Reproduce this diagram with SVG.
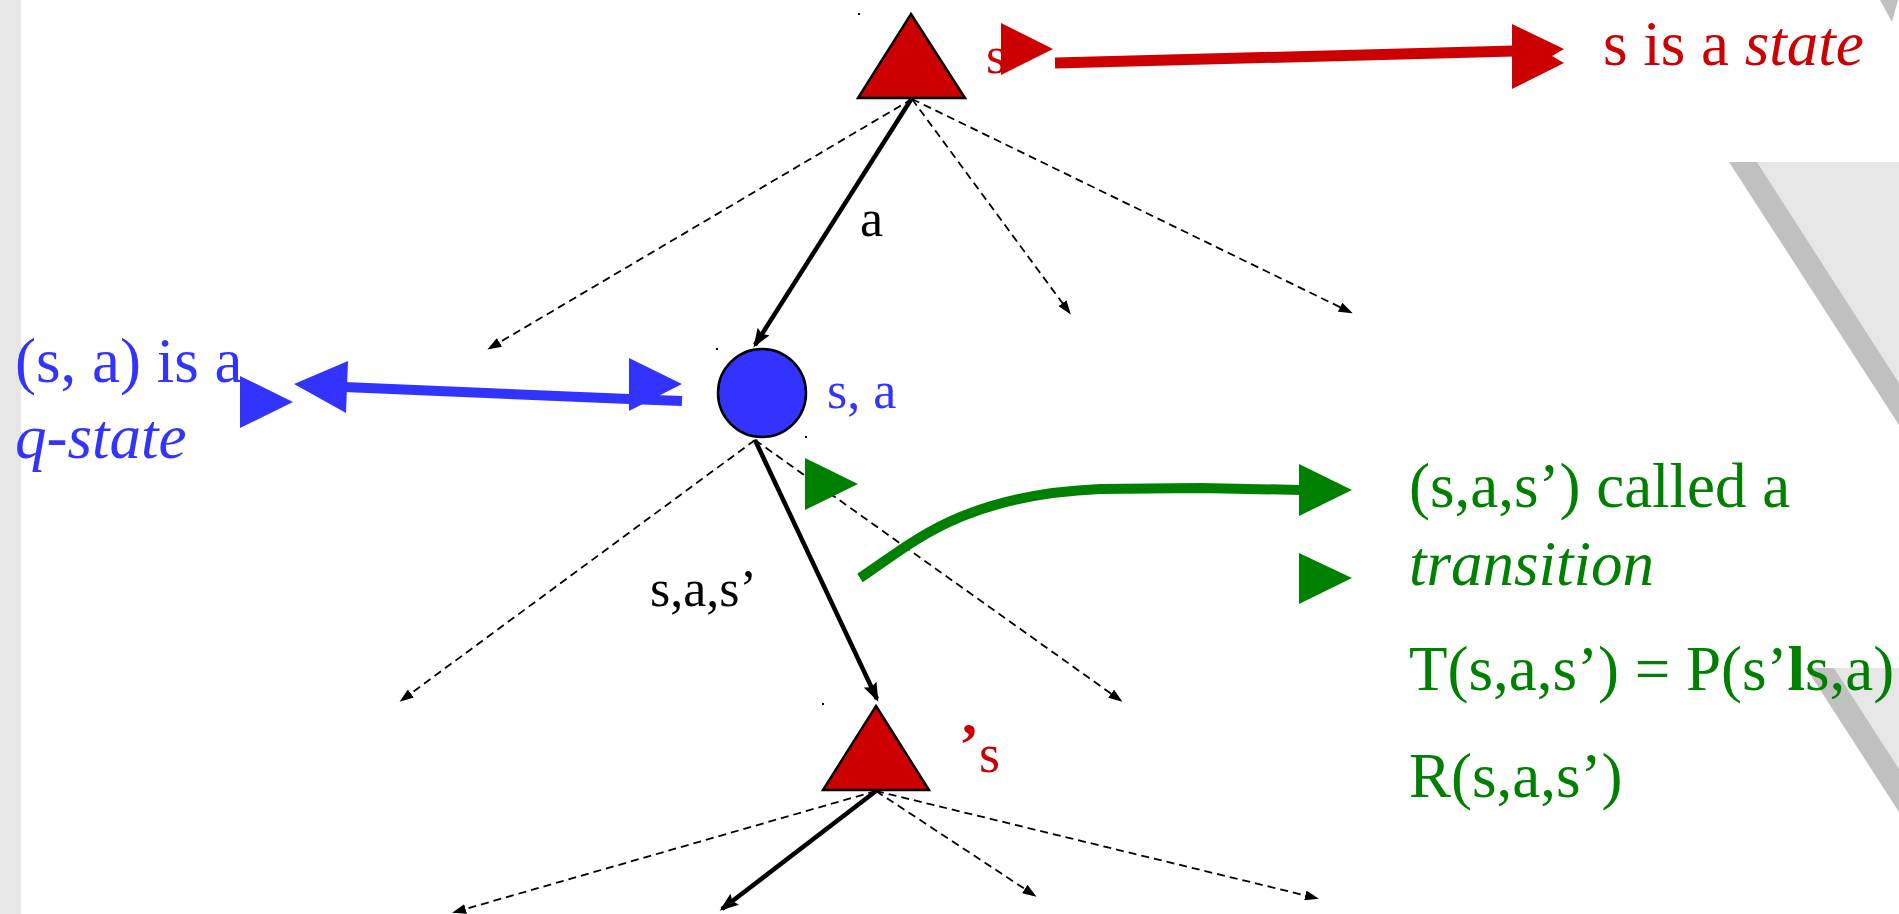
<svg xmlns="http://www.w3.org/2000/svg" width="1899" height="914" viewBox="0 0 1899 914">
<style>
  text { font-family: "Liberation Serif", "Times New Roman", serif; }
  .big { font-size: 63px; }
  .lbl { font-size: 52px; }
  .red { fill: #cc0000; }
  .blue { fill: #3333ff; }
  .green { fill: #008000; }
  .blk { fill: #000000; }
  .it { font-style: italic; }
  .state { fill: #cc0000; stroke: #000; stroke-width: 2.5; stroke-linejoin: miter; }
  .qstate { fill: #3333ff; stroke: #000; stroke-width: 2.5; }
  .solid { stroke: #000; stroke-width: 4.5; fill: none; marker-end: url(#ah); }
  .dash { stroke: #000; stroke-width: 1.8; fill: none; stroke-dasharray: 8 5; marker-end: url(#ahs); }
  .dot { fill: #000; }
</style>
<defs>
  <marker id="ah" markerUnits="userSpaceOnUse" markerWidth="20" markerHeight="14" refX="16" refY="7" orient="auto">
    <path d="M0,0 L19,7 L0,14 L3,7 z" fill="#000"/>
  </marker>
  <marker id="ahs" markerUnits="userSpaceOnUse" markerWidth="14" markerHeight="10" refX="11" refY="5" orient="auto">
    <path d="M0,0 L14,5 L0,10 z" fill="#000"/>
  </marker>
</defs>

<g id="background">
  <rect x="0" y="0" width="21" height="914" fill="#e6e6e6"/>
  <polygon points="1880,0 1898,0 1892,22" fill="#c0c0c0"/>
  <polygon points="1757,162 1899,162 1899,383" fill="#e6e6e6"/>
  <polygon points="1729,162 1757,162 1899,383 1899,425" fill="#c0c0c0"/>
  <polygon points="1834,668 1899,668 1899,769" fill="#e6e6e6"/>
  <polygon points="1806,668 1834,668 1899,769 1899,812" fill="#c0c0c0"/>
</g>

<g id="connectors">
  <line class="solid" x1="912" y1="98" x2="755" y2="345"/>
  <line class="dash" x1="912" y1="99" x2="490" y2="348"/>
  <line class="dash" x1="912" y1="99" x2="1069" y2="312"/>
  <line class="dash" x1="912" y1="99" x2="1350" y2="312"/>
  <line class="solid" x1="755" y1="440" x2="877" y2="699"/>
  <line class="dash" x1="755" y1="440" x2="402" y2="700"/>
  <line class="dash" x1="755" y1="440" x2="1120" y2="700"/>
  <line class="solid" x1="876" y1="791" x2="722" y2="909"/>
  <line class="dash" x1="876" y1="791" x2="455" y2="912"/>
  <line class="dash" x1="876" y1="791" x2="1034" y2="895"/>
  <line class="dash" x1="876" y1="791" x2="1316" y2="898"/>
</g>

<g id="node-s">
  <text class="red" x="986" y="73" font-size="52">s</text>
  <polygon class="state" points="911,14 965,98 858,98"/>
</g>

<g id="node-sa">
  <circle class="qstate" cx="762" cy="393" r="44"/>
  <text class="blue lbl" x="827" y="408">s, a</text>
</g>

<g id="node-s-prime">
  <polygon class="state" points="876,706 929,790 823,790"/>
  <text class="red" x="959" y="772" font-size="54"><tspan font-size="60" font-weight="bold" dy="-8">’</tspan><tspan dy="8">s</tspan></text>
</g>

<g id="edge-labels">
  <text class="blk lbl" x="860" y="236">a</text>
  <text class="blk lbl" x="650" y="606">s,a,s’</text>
</g>

<g id="dots">
  <rect class="dot" x="858" y="13" width="2" height="2"/>
  <rect class="dot" x="716" y="348" width="2" height="2"/>
  <rect class="dot" x="805" y="436" width="2" height="2"/>
  <rect class="dot" x="822" y="703" width="2" height="2"/>
</g>

<g id="note-state">
  <polygon class="red" points="1001,23 1053,49 1001,75"/>
  <line x1="1055" y1="63" x2="1514" y2="51" stroke="#cc0000" stroke-width="11"/>
  <polygon class="red" points="1512,24 1564,49 1552,56 1564,63 1512,89"/>
  <text class="red big" x="1603" y="65">s is a <tspan class="it">state</tspan></text>
</g>

<g id="note-qstate">
  <text class="blue big" x="15" y="382">(s, a) is a</text>
  <text class="blue big it" x="15" y="458">q-state</text>
  <polygon class="blue" points="240,376 293,402 240,428"/>
  <polygon class="blue" points="294,384 348,361 346,413"/>
  <polyline points="344,387 629,399 682,401" fill="none" stroke="#3333ff" stroke-width="10"/>
  <polygon class="blue" points="629,358 682,384 629,411"/>
</g>

<g id="note-transition">
  <polygon class="green" points="805,458 858,484 805,510"/>
  <path d="M860,578 C910,545 960,495 1100,489 L1200,488 L1302,490" fill="none" stroke="#008000" stroke-width="10"/>
  <polygon class="green" points="1299,464 1352,490 1299,516"/>
  <polygon class="green" points="1299,553 1352,578 1299,604"/>
  <text class="green big" x="1409" y="507">(s,a,s’) called a</text>
  <text class="green big it" x="1409" y="585">transition</text>
  <text class="green big" x="1409" y="690">T(s,a,s’) = P(s’<tspan font-weight="bold">l</tspan>s,a)</text>
  <text class="green big" x="1409" y="797">R(s,a,s’)</text>
</g>
</svg>
